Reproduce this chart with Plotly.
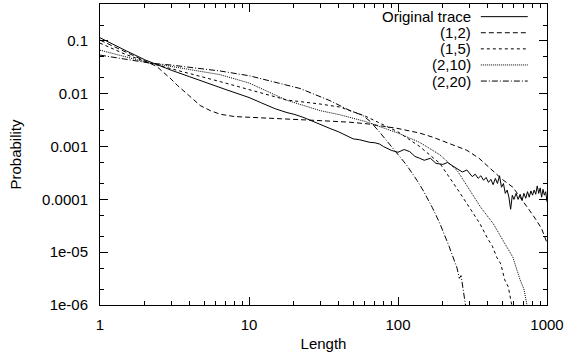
import plotly.graph_objects as go

# ---------------- data ----------------
series_names = ["Original trace", "(1,2)", "(1,5)", "(2,10)", "(2,20)"]

orig_x = [1, 1.2, 1.5, 2, 2.5, 3, 4, 5, 6, 7, 8, 10, 12, 15, 18, 20, 23, 26, 30, 35,
          40, 45, 50, 55, 60, 65, 70, 75, 80, 90, 100, 110, 120, 130, 140, 150, 165,
          180, 200, 215, 230, 250, 270, 290,
          300, 315, 330, 345, 360, 375, 390, 405, 420, 435, 450, 465, 480, 495, 510,
          525, 540, 555, 570, 585, 600, 620, 640, 660, 680, 700, 720, 740, 760, 780,
          800, 820, 840, 860, 880, 900, 920, 940, 960, 980, 1000]
orig_y = [0.115, 0.088, 0.065, 0.044, 0.034, 0.028, 0.021, 0.0165, 0.014, 0.012, 0.0105,
          0.0085, 0.0068, 0.0052, 0.0044, 0.0041, 0.0036, 0.0031, 0.0026, 0.0022,
          0.0019, 0.0016, 0.0014, 0.00135, 0.00125, 0.0012, 0.00118, 0.00112, 0.001,
          0.00085, 0.00078, 0.00088, 0.0008, 0.00065, 0.0006, 0.00055, 0.0006,
          0.00048, 0.00046, 0.0005, 0.00044, 0.00038, 0.00033, 0.00036,
          3.2e-4, 2.7e-4, 3.0e-4, 2.5e-4, 2.8e-4, 2.3e-4, 2.6e-4, 2.1e-4, 2.4e-4,
          1.9e-4, 2.5e-4, 2.0e-4, 2.8e-4, 1.7e-4, 2.0e-4, 1.3e-4, 1.5e-4, 1.1e-4,
          6.5e-5, 1.2e-4, 1.0e-4, 1.3e-4, 1.0e-4, 1.25e-4, 9.5e-5, 1.3e-4, 1.05e-4,
          1.4e-4, 1.1e-4, 1.45e-4, 1.2e-4, 1.5e-4, 1.25e-4, 1.8e-4, 1.3e-4, 1.65e-4,
          1.1e-4, 1.55e-4, 1.2e-4, 1.4e-4, 9.0e-5]

m12_x = [1, 1.5, 2, 2.4, 3, 3.3, 4, 4.7, 5.5, 6.4, 8, 10, 15, 22, 30, 47, 62, 100,
         140, 172, 230, 290, 350, 430, 500, 590, 680, 760, 840, 920, 1000]
m12_y = [0.104, 0.062, 0.042, 0.033, 0.019, 0.0145, 0.009, 0.006, 0.0048, 0.0041,
         0.0037, 0.0036, 0.0034, 0.0033, 0.0031, 0.0029, 0.0027, 0.0022, 0.0018,
         0.0015, 0.0011, 0.00085, 0.0006, 0.00035, 0.00024, 0.00017, 0.0001,
         6.3e-5, 4.2e-5, 2.8e-5, 1.5e-5]

m15_x = [1, 1.5, 2.17, 3, 4.7, 6.4, 10, 18, 30, 40.8, 60, 80, 100, 140, 191, 253,
         300, 354, 400, 430, 460, 490, 520, 550, 580, 600]
m15_y = [0.091, 0.055, 0.038, 0.03, 0.021, 0.017, 0.012, 0.0076, 0.0064, 0.0056,
         0.0038, 0.0026, 0.0019, 0.001, 0.00048, 0.00015, 7e-5, 3.5e-5, 1.8e-5,
         1.3e-5, 8e-6, 6e-6, 3e-6, 2.2e-6, 1e-6, 6e-7]

m210_x = [1, 1.5, 2.17, 3, 4.7, 6.4, 10, 18, 30, 40.8, 60, 100, 140, 191, 250, 304,
          360, 435, 510, 560, 590, 630, 660, 700, 735, 760]
m210_y = [0.067, 0.05, 0.038, 0.033, 0.027, 0.023, 0.016, 0.0075, 0.0048, 0.004,
          0.003, 0.0018, 0.0012, 0.0007, 0.00035, 0.00015, 7e-5, 3.5e-5, 1.6e-5,
          1e-5, 8e-6, 4.5e-6, 3e-6, 2e-6, 1e-6, 6e-7]

m220_x = [1, 1.5, 2.17, 3, 4.7, 6.4, 10, 16, 22, 35, 47.6, 58, 65, 75, 88, 100,
          114, 134, 147, 170, 191, 220, 249, 258, 265, 281, 295]
m220_y = [0.054, 0.045, 0.038, 0.035, 0.03, 0.027, 0.022, 0.016, 0.0126, 0.0074,
          0.0048, 0.0039, 0.003, 0.0019, 0.0011, 0.0007, 0.00045, 0.00023, 0.00015,
          7e-5, 3.5e-5, 1.3e-5, 5e-6, 3.2e-6, 3.6e-6, 1.2e-6, 5e-7]

y_tick_vals = [1e-6, 1e-5, 1e-4, 1e-3, 1e-2, 1e-1]
y_tick_text = ["1e-06", "1e-05", "0.0001", "0.001", "0.01", "0.1"]
x_tick_vals = [1, 10, 100, 1000]
x_tick_text = ["1", "10", "100", "1000"]

# ---------------- styles ----------------
dashes = ["solid", "5px,3px", "3px,3px", "1px,1px", "6px,2px,1px,2px"]
xs = [orig_x, m12_x, m15_x, m210_x, m220_x]
ys = [orig_y, m12_y, m15_y, m210_y, m220_y]

fig = go.Figure()
for name, x, y, d in zip(series_names, xs, ys, dashes):
    fig.add_trace(go.Scatter(x=x, y=y, mode="lines", name=name, showlegend=False,
                             hoverinfo="skip",
                             line=dict(color="black", width=1, dash=d)))

# legend drawn gnuplot-style: right-aligned text, sample to the right
for i, (name, d) in enumerate(zip(series_names, dashes)):
    yy = 0.958 - i * 0.0535
    fig.add_annotation(xref="paper", yref="paper", x=0.834, y=yy, text=name,
                       showarrow=False, xanchor="right", yanchor="middle",
                       font=dict(size=15, color="black"))
    fig.add_shape(type="line", xref="paper", yref="paper", x0=0.852, x1=0.957,
                  y0=yy, y1=yy, line=dict(color="black", width=1, dash=d))

x_minor = [m * 10 ** k for k in range(3) for m in range(2, 10)]
y_minor = [m * 10.0 ** k for k in range(-6, 0) for m in (2, 5)]

fig.update_layout(
    width=566, height=361,
    margin=dict(l=100, r=19, t=4, b=56, autoexpand=False),
    paper_bgcolor="white", plot_bgcolor="white",
    font=dict(family="Liberation Sans, Arial, sans-serif", size=15, color="black"),
    xaxis=dict(type="log", range=[0, 3], showgrid=False, zeroline=False,
               automargin=False,
               showline=True, linecolor="black", linewidth=1, mirror="ticks",
               ticks="inside", ticklen=8, tickcolor="black",
               tickvals=x_tick_vals, ticktext=x_tick_text, ticklabelstandoff=6,
               minor=dict(tickvals=x_minor, ticks="inside", ticklen=4,
                          tickcolor="black", showgrid=False),
               title=dict(text="Length", standoff=6, font=dict(size=15))),
    yaxis=dict(type="log", range=[-6, -0.3], showgrid=False, zeroline=False,
               automargin=False,
               showline=True, linecolor="black", linewidth=1, mirror="ticks",
               ticks="inside", ticklen=8, tickcolor="black",
               tickvals=y_tick_vals, ticktext=y_tick_text, ticklabelstandoff=8,
               minor=dict(tickvals=y_minor, ticks="inside", ticklen=4,
                          tickcolor="black", showgrid=False),
               title=dict(text="Probability", standoff=16, font=dict(size=15))),
)

fig.write_html("out.html", config={"displayModeBar": False},
               post_script="document.body.style.margin='0';document.body.style.padding='0';")
